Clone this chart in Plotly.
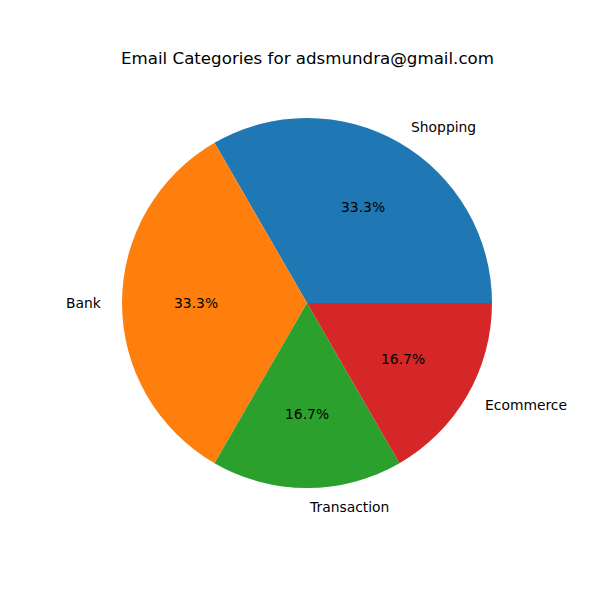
import math
import plotly.graph_objects as go

labels = ["Shopping", "Bank", "Transaction", "Ecommerce"]
values = [2, 2, 1, 1]
colors = ["#1f77b4", "#ff7f0e", "#2ca02c", "#d62728"]
title = "Email Categories for adsmundra@gmail.com"

W = H = 600
cx, cy, r = 307, 303, 185  # pixel center/radius of the pie
dom_x = [(cx - r) / W, (cx + r) / W]
dom_y = [(H - cy - r) / H, (H - cy + r) / H]

total = sum(values)
# plotly: for counterclockwise, the first slice ends at `rotation` (clockwise from 12 o'clock);
# make the first slice start at 3 o'clock like matplotlib's startangle=0
rotation = 90 - 360.0 * values[0] / total

fig = go.Figure(go.Pie(
    labels=labels, values=values, sort=False, direction="counterclockwise",
    rotation=rotation, marker=dict(colors=colors, line=dict(width=0)),
    textinfo="none", hoverinfo="label+percent", showlegend=False,
    domain=dict(x=dom_x, y=dom_y),
))

annotations = []
start = 0.0
font = dict(family="DejaVu Sans", size=13.89, color="black")
for lab, v in zip(labels, values):
    theta = 360.0 * v / total
    mid = math.radians(start + theta / 2)
    start += theta
    x, y = math.cos(mid), math.sin(mid)
    lx = (cx + 1.1 * r * x) / W
    ly = (H - cy + 1.1 * r * y) / H
    annotations.append(dict(
        x=lx, y=ly, xref="paper", yref="paper", text=lab, showarrow=False,
        xanchor="left" if x > -1e-9 else "right", yanchor="middle", font=font))
    px = (cx + 0.6 * r * x) / W
    py = (H - cy + 0.6 * r * y) / H
    annotations.append(dict(
        x=px, y=py, xref="paper", yref="paper", text=f"{100 * v / total:.1f}%",
        showarrow=False, xanchor="center", yanchor="middle", font=font))

annotations.append(dict(
    x=cx / W, y=(H - 58) / H, xref="paper", yref="paper", text=title,
    showarrow=False, xanchor="center", yanchor="middle",
    font=dict(family="DejaVu Sans", size=16.67, color="black")))

fig.update_layout(
    width=W, height=H, margin=dict(l=0, r=0, t=0, b=0),
    paper_bgcolor="white", plot_bgcolor="white", annotations=annotations,
)
fig.write_html("out.html", config={"displayModeBar": False},
               post_script="document.body.style.margin='0';")
